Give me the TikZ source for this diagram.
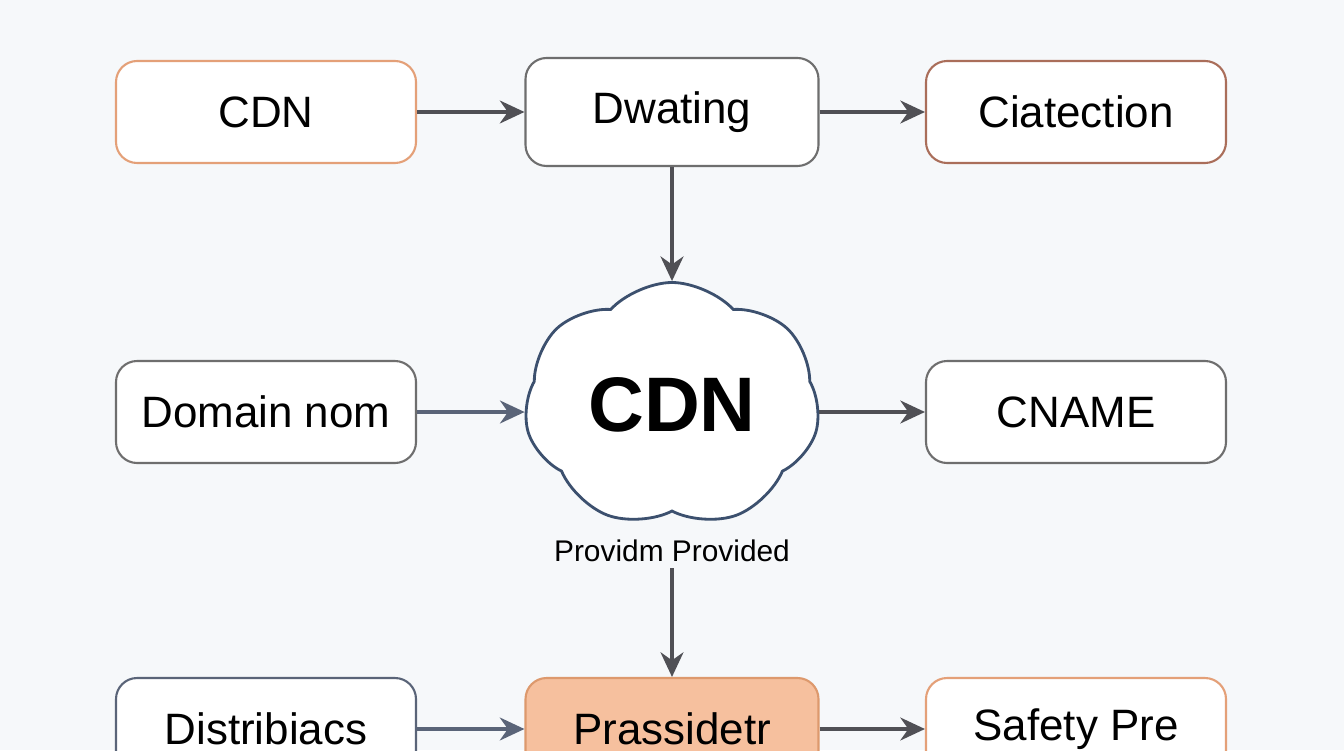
\documentclass[tikz,border=0pt]{standalone}
\usepackage{fontspec}
\setmainfont{Liberation Sans}
\usetikzlibrary{arrows.meta,shapes.symbols}

\definecolor{bgcol}{RGB}{246,248,250}
\definecolor{edgegray}{RGB}{110,110,110}
\definecolor{orangeline}{RGB}{228,160,120}
\definecolor{brownline}{RGB}{170,110,90}
\definecolor{slateline}{RGB}{90,100,120}
\definecolor{cloudline}{RGB}{60,80,110}
\definecolor{orangefill}{RGB}{246,192,158}
\definecolor{arrowcol}{RGB}{80,80,85}

\begin{document}
\begin{tikzpicture}[
        box/.style={
            draw=edgegray,
            line width=1.2pt,
            fill=white,
            rounded corners=12pt,
            minimum width=6cm,
            minimum height=2.04cm,
            font=\fontsize{25}{29}\selectfont,
        },
        flow/.style={
            draw=arrowcol,
            line width=2.2pt,
            -{Stealth[length=14pt,width=13pt]},
        },
    ]
    \useasboundingbox[fill=bgcol] (0,0) rectangle (26.88,15);
    \clip (0,0) rectangle (26.88,15);

    % Top row.
    \node[box, draw=orangeline] (cdnA) at (5.32,12.76) {CDN};
    \node[box, minimum width=5.86cm, minimum height=2.16cm] (dwat) at (13.44,12.76) {Dwating};
    \node[box, draw=brownline] (ciat) at (21.52,12.76) {Ciatection};

    % Middle row.
    \node[box] (domain) at (5.32,6.76) {Domain nom};
    \node[cloud, cloud puffs=7, cloud puff arc=95, aspect=1.2,
          draw=cloudline, line width=1.6pt, fill=white,
          minimum width=5.9cm, minimum height=4.9cm,
          font=\bfseries\fontsize{44}{50}\selectfont] (cloud) at (13.44,6.9) {CDN};
    \node[box] (cname) at (21.52,6.76) {CNAME};
    \node[font=\fontsize{17}{20}\selectfont] (prov) at (13.44,3.98) {Providm Provided};

    % Bottom row.
    \node[box, draw=slateline] (dist) at (5.32,0.42) {Distribiacs};
    \node[box, draw=orangeline!80!brown, fill=orangefill, minimum width=5.86cm] (prass) at (13.44,0.42) {Prassidetr};
    \node[box, draw=orangeline] (safe) at (21.52,0.42) {Safety Pre};

    % Connectors.
    \draw[flow] (cdnA) -- (dwat);
    \draw[flow] (dwat) -- (ciat);
    \draw[flow] (dwat) -- (cloud);
    \draw[flow, draw=slateline] (domain) -- (domain -| cloud.west);
    \draw[flow] (cname -| cloud.east) -- (cname);
    \draw[flow] (prov) -- (prass);
    \draw[flow, draw=slateline] (dist) -- (prass);
    \draw[flow] (prass) -- (safe);
\end{tikzpicture}
\end{document}
